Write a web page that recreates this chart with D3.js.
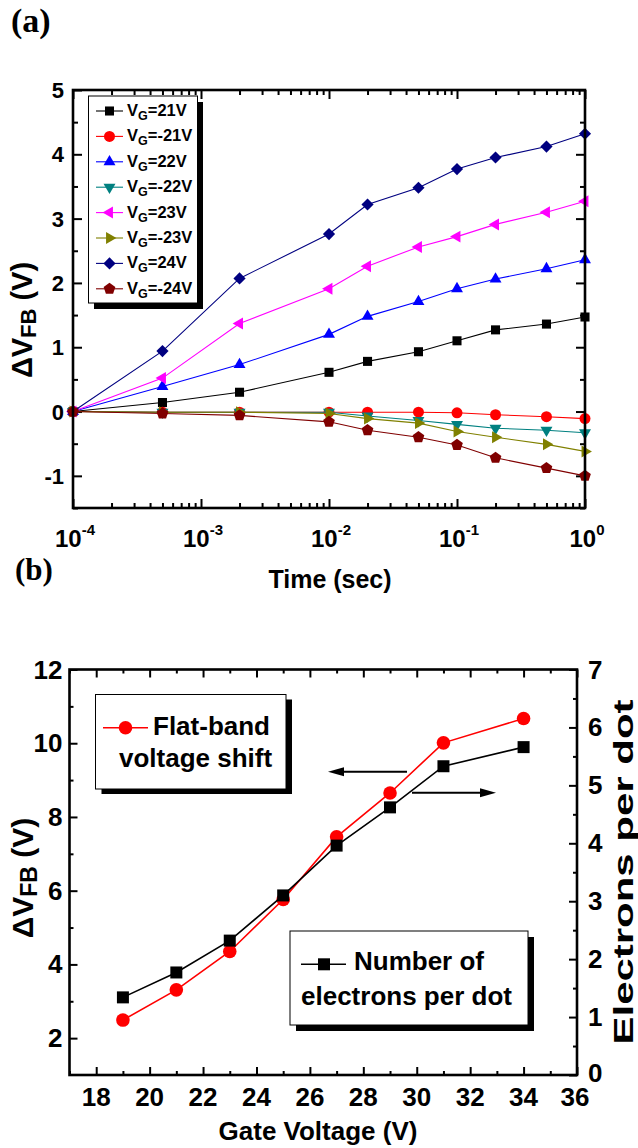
<!DOCTYPE html>
<html>
<head>
<meta charset="utf-8">
<script src="https://cdn.jsdelivr.net/npm/d3@7"></script>
<style>
  html, body { margin: 0; padding: 0; background: #fff; }
  svg { display: block; }
  text { font-family: "Liberation Sans", Arial, Helvetica, sans-serif; font-weight: bold; fill: #000; }
  .serif { font-family: "Liberation Serif", "Times New Roman", serif; }
</style>
</head>
<body>
<svg id="fig" width="638" height="1148"></svg>
<script>
// ---------- Panel (a): flat-band shift vs. stress time ----------
const times = [1e-4, 5e-4, 2e-3, 1e-2, 2e-2, 5e-2, 1e-1, 2e-1, 5e-1, 1];
const gateLabels = ["21", "-21", "22", "-22", "23", "-23", "24", "-24"];
const shiftVg21  = [0, 0.14, 0.30, 0.61, 0.78, 0.93, 1.10, 1.27, 1.36, 1.47];
const shiftVgM21 = [0, -0.01, -0.01, -0.01, -0.01, -0.01, -0.02, -0.05, -0.08, -0.11];
const shiftVg22  = [0, 0.39, 0.73, 1.20, 1.48, 1.71, 1.91, 2.06, 2.22, 2.36];
const shiftVgM22 = [0, -0.01, -0.01, -0.01, -0.07, -0.14, -0.20, -0.26, -0.29, -0.33];
const shiftVg23  = [0, 0.52, 1.37, 1.91, 2.26, 2.56, 2.72, 2.91, 3.10, 3.27];
const shiftVgM23 = [0, -0.01, -0.01, -0.03, -0.11, -0.18, -0.31, -0.40, -0.51, -0.62];
const shiftVg24  = [0, 0.94, 2.07, 2.76, 3.22, 3.48, 3.77, 3.95, 4.12, 4.32];
const shiftVgM24 = [0, -0.03, -0.06, -0.16, -0.29, -0.40, -0.52, -0.72, -0.88, -1.00];
const timeTickExponents = [-4, -3, -2, -1, 0];
const shiftTicksA = [-1, 0, 1, 2, 3, 4, 5];

// ---------- Panel (b): shift and charge vs. gate voltage ----------
const gateVoltage = [19, 21, 23, 25, 27, 29, 31, 34];
const flatBandShift = [2.49, 3.31, 4.35, 5.76, 7.46, 8.65, 10.01, 10.67];
const electronsPerDot = [1.34, 1.77, 2.32, 3.10, 3.96, 4.62, 5.33, 5.66];
const gateTicks = [18, 20, 22, 24, 26, 28, 30, 32, 34, 36];
const shiftTicksB = [2, 4, 6, 8, 10, 12];
const electronTicks = [0, 1, 2, 3, 4, 5, 6, 7];

const svg = d3.select("#fig");

// pentagon marker for d3.symbol
const symbolPentagon = {
  draw(ctx, size) {
    const r = Math.sqrt(size / (2.5 * Math.sin(2 * Math.PI / 5)));
    for (let i = 0; i < 5; i++) {
      const a = -Math.PI / 2 + i * 2 * Math.PI / 5;
      const x = r * Math.cos(a), y = r * Math.sin(a);
      if (i === 0) ctx.moveTo(x, y); else ctx.lineTo(x, y);
    }
    ctx.closePath();
  }
};

// marker style per series
const seriesStyle = [
  { color: "#000000", type: d3.symbolSquare,   rot: 0,   size: 82 },
  { color: "#ff0000", type: d3.symbolCircle,   rot: 0,   size: 95 },
  { color: "#0000ff", type: d3.symbolTriangle, rot: 0,   size: 62 },
  { color: "#008080", type: d3.symbolTriangle, rot: 180, size: 62 },
  { color: "#ff00ff", type: d3.symbolTriangle, rot: -90, size: 62 },
  { color: "#808000", type: d3.symbolTriangle, rot: 90,  size: 62 },
  { color: "#000080", type: d3.symbolSquare,   rot: 45,  size: 74 },
  { color: "#800000", type: symbolPentagon,    rot: 0,   size: 90 }
];
const seriesA = [shiftVg21, shiftVgM21, shiftVg22, shiftVgM22, shiftVg23, shiftVgM23, shiftVg24, shiftVgM24];

// inward ticks on one side of a frame
function frameTicks(axisFn, scale, transform, values, len) {
  const g = svg.append("g").attr("transform", transform)
    .call(axisFn(scale).tickValues(values).tickSize(-len).tickFormat(""));
  g.select(".domain").remove();
  g.selectAll(".tick text").remove();
  g.selectAll(".tick line").attr("stroke", "#000").attr("stroke-width", 2);
}

// ================= Panel (a) =================
const A = { l: 73, r: 585, t: 90, b: 508 };
const xA = d3.scaleLog().domain([1e-4, 1]).range([A.l, A.r]);
const yA = d3.scaleLinear().domain([-1.5, 5]).range([A.b, A.t]);

const majorTimes = timeTickExponents.map(e => Math.pow(10, e));
const minorTimes = [];
timeTickExponents.slice(0, -1).forEach(e => { for (let m = 2; m <= 9; m++) minorTimes.push(m * Math.pow(10, e)); });
const minorShiftA = d3.range(-1.5, 5, 1).map(v => +v.toFixed(1));

frameTicks(d3.axisBottom, xA, `translate(0,${A.b})`, majorTimes, 9);
frameTicks(d3.axisBottom, xA, `translate(0,${A.b})`, minorTimes, 5);
frameTicks(d3.axisTop, xA, `translate(0,${A.t})`, majorTimes, 9);
frameTicks(d3.axisTop, xA, `translate(0,${A.t})`, minorTimes, 5);
frameTicks(d3.axisLeft, yA, `translate(${A.l},0)`, shiftTicksA, 9);
frameTicks(d3.axisLeft, yA, `translate(${A.l},0)`, minorShiftA, 5);
frameTicks(d3.axisRight, yA, `translate(${A.r},0)`, shiftTicksA, 9);
frameTicks(d3.axisRight, yA, `translate(${A.r},0)`, minorShiftA, 5);

// data lines and markers
const lineA = d3.line().x((d, i) => xA(times[i])).y(d => yA(d));
seriesA.forEach((vals, k) => {
  const st = seriesStyle[k];
  svg.append("path").attr("d", lineA(vals)).attr("fill", "none")
    .attr("stroke", st.color).attr("stroke-width", 1.1);
  svg.append("g").selectAll("path").data(vals).join("path")
    .attr("d", d3.symbol(st.type, st.size))
    .attr("transform", (d, i) => `translate(${xA(times[i])},${yA(d)}) rotate(${st.rot})`)
    .attr("fill", st.color);
});

svg.append("rect").attr("x", A.l).attr("y", A.t).attr("width", A.r - A.l).attr("height", A.b - A.t)
  .attr("fill", "none").attr("stroke", "#000").attr("stroke-width", 2.6);

// tick labels
svg.append("g").selectAll("text").data(shiftTicksA).join("text")
  .attr("x", A.l - 9).attr("y", d => yA(d) + 8).attr("text-anchor", "end")
  .attr("font-size", 22).text(d => d);

const xLab = svg.append("g").selectAll("text").data(timeTickExponents).join("text")
  .attr("x", d => xA(Math.pow(10, d)) + 2).attr("y", 547).attr("text-anchor", "middle").attr("font-size", 24);
xLab.append("tspan").text("10");
xLab.append("tspan").attr("dy", -12).attr("font-size", 15).text(d => d);

svg.append("text").attr("x", 330).attr("y", 588).attr("text-anchor", "middle")
  .attr("font-size", 25).text("Time (sec)");

const yLabA = svg.append("text").attr("transform", "translate(32,320) rotate(-90)")
  .attr("text-anchor", "middle").attr("font-size", 29);
yLabA.append("tspan").text("\u0394V");
yLabA.append("tspan").attr("font-size", 22).attr("dy", 4).text("FB");
yLabA.append("tspan").attr("dy", -4).text(" (V)");

// legend (a)
svg.append("rect").attr("x", 94).attr("y", 102).attr("width", 109).attr("height", 207).attr("fill", "#000");
svg.append("rect").attr("x", 88.5).attr("y", 96).attr("width", 109).attr("height", 207)
  .attr("fill", "#fff").attr("stroke", "#000").attr("stroke-width", 1);
gateLabels.forEach((lab, k) => {
  const st = seriesStyle[k];
  const y = 111 + k * 25.4;
  svg.append("line").attr("x1", 96).attr("x2", 123).attr("y1", y).attr("y2", y)
    .attr("stroke", st.color).attr("stroke-width", 1.1);
  svg.append("path").attr("d", d3.symbol(st.type, st.size))
    .attr("transform", `translate(109.5,${y}) rotate(${st.rot})`).attr("fill", st.color);
  const t = svg.append("text").attr("x", 127).attr("y", y + 5).attr("font-size", 16.5);
  t.append("tspan").text("V");
  t.append("tspan").attr("font-size", 12.5).attr("dy", 4).text("G");
  t.append("tspan").attr("dy", -4).text("=" + lab + "V");
});

svg.append("text").attr("class", "serif").attr("x", 11).attr("y", 32).attr("font-size", 34).text("(a)");

// ================= Panel (b) =================
const B = { l: 69.5, r: 577, t: 669.5, b: 1075 };
const xB = d3.scaleLinear().domain([17, 36]).range([B.l, B.r]);
const yB = d3.scaleLinear().domain([1, 12]).range([B.b, B.t]);
const yR = d3.scaleLinear().domain([0, 7]).range([B.b, B.t]);

const minorGate = d3.range(17, 36, 2);
const minorShiftB = [3, 5, 7, 9, 11];
const minorElectrons = d3.range(0.5, 7, 1);

frameTicks(d3.axisBottom, xB, `translate(0,${B.b})`, gateTicks, 8);
frameTicks(d3.axisBottom, xB, `translate(0,${B.b})`, minorGate, 4);
frameTicks(d3.axisTop, xB, `translate(0,${B.t})`, gateTicks, 8);
frameTicks(d3.axisTop, xB, `translate(0,${B.t})`, minorGate, 4);
frameTicks(d3.axisLeft, yB, `translate(${B.l},0)`, shiftTicksB, 8);
frameTicks(d3.axisLeft, yB, `translate(${B.l},0)`, minorShiftB, 4);
frameTicks(d3.axisRight, yR, `translate(${B.r},0)`, electronTicks, 8);
frameTicks(d3.axisRight, yR, `translate(${B.r},0)`, minorElectrons, 4);

// flat-band shift (left axis)
svg.append("path").attr("d", d3.line().x((d, i) => xB(gateVoltage[i])).y(d => yB(d))(flatBandShift))
  .attr("fill", "none").attr("stroke", "#ff0000").attr("stroke-width", 1.6);
svg.append("g").selectAll("path").data(flatBandShift).join("path")
  .attr("d", d3.symbol(d3.symbolCircle, 145))
  .attr("transform", (d, i) => `translate(${xB(gateVoltage[i])},${yB(d)})`).attr("fill", "#ff0000");

// electrons per dot (right axis)
svg.append("path").attr("d", d3.line().x((d, i) => xB(gateVoltage[i])).y(d => yR(d))(electronsPerDot))
  .attr("fill", "none").attr("stroke", "#000").attr("stroke-width", 1.6);
svg.append("g").selectAll("path").data(electronsPerDot).join("path")
  .attr("d", d3.symbol(d3.symbolSquare, 144))
  .attr("transform", (d, i) => `translate(${xB(gateVoltage[i])},${yR(d)})`).attr("fill", "#000");

svg.append("rect").attr("x", B.l).attr("y", B.t).attr("width", B.r - B.l).attr("height", B.b - B.t)
  .attr("fill", "none").attr("stroke", "#000").attr("stroke-width", 2.6);

// tick labels
svg.append("g").selectAll("text").data(shiftTicksB).join("text")
  .attr("x", B.l - 7).attr("y", d => yB(d) + 9).attr("text-anchor", "end")
  .attr("font-size", 26).text(d => d);
svg.append("g").selectAll("text").data(electronTicks).join("text")
  .attr("x", B.r + 11).attr("y", d => yR(d) + (d === 0 ? 7 : 9)).attr("text-anchor", "start")
  .attr("font-size", 26).text(d => d);
svg.append("g").selectAll("text").data(gateTicks).join("text")
  .attr("x", d => xB(d) - (d === 36 ? 2 : 0)).attr("y", 1106).attr("text-anchor", "middle")
  .attr("font-size", 26).text(d => d);

svg.append("text").attr("x", 318).attr("y", 1140).attr("text-anchor", "middle")
  .attr("font-size", 26).text("Gate Voltage (V)");

const yLabB = svg.append("text").attr("transform", "translate(33,878) rotate(-90)")
  .attr("text-anchor", "middle").attr("font-size", 30);
yLabB.append("tspan").text("\u0394V");
yLabB.append("tspan").attr("font-size", 23).attr("dy", 4).text("FB");
yLabB.append("tspan").attr("dy", -4).text(" (V)");

svg.append("text").attr("transform", "translate(633,872) rotate(-90)")
  .attr("text-anchor", "middle").attr("font-size", 28)
  .attr("textLength", 345).attr("lengthAdjust", "spacingAndGlyphs").text("Electrons per dot");

// direction arrows
function arrow(x1, x2, y) {
  const dir = Math.sign(x2 - x1);
  svg.append("line").attr("x1", x1).attr("x2", x2 - dir * 12).attr("y1", y).attr("y2", y)
    .attr("stroke", "#000").attr("stroke-width", 2);
  svg.append("path").attr("d", `M${x2},${y} L${x2 - dir * 16},${y - 4.5} L${x2 - dir * 16},${y + 4.5} Z`)
    .attr("fill", "#000");
}
arrow(407, 328, 771.7);
arrow(412, 496, 792.7);

// legend boxes (b)
svg.append("rect").attr("x", 101.5).attr("y", 699.5).attr("width", 190.5).attr("height", 94.5).attr("fill", "#000");
svg.append("rect").attr("x", 95.5).attr("y", 694.5).attr("width", 190.5).attr("height", 94.5)
  .attr("fill", "#fff").attr("stroke", "#000").attr("stroke-width", 1);
svg.append("line").attr("x1", 103).attr("x2", 148).attr("y1", 727.7).attr("y2", 727.7)
  .attr("stroke", "#ff0000").attr("stroke-width", 1.6);
svg.append("path").attr("d", d3.symbol(d3.symbolCircle, 145)).attr("transform", "translate(125.5,727.7)").attr("fill", "#ff0000");
svg.append("text").attr("x", 153).attr("y", 735).attr("font-size", 26).text("Flat-band");
svg.append("text").attr("x", 119).attr("y", 767).attr("font-size", 26).text("voltage shift");

svg.append("rect").attr("x", 296).attr("y", 937).attr("width", 238).attr("height", 94).attr("fill", "#000");
svg.append("rect").attr("x", 290).attr("y", 931).attr("width", 238).attr("height", 94)
  .attr("fill", "#fff").attr("stroke", "#000").attr("stroke-width", 1);
svg.append("line").attr("x1", 301).attr("x2", 346).attr("y1", 964.3).attr("y2", 964.3)
  .attr("stroke", "#000").attr("stroke-width", 1.6);
svg.append("path").attr("d", d3.symbol(d3.symbolSquare, 144)).attr("transform", "translate(324,964.3)").attr("fill", "#000");
svg.append("text").attr("x", 354).attr("y", 970).attr("font-size", 26).text("Number of");
svg.append("text").attr("x", 301).attr("y", 1005).attr("font-size", 26).text("electrons per dot");

svg.append("text").attr("class", "serif").attr("x", 15).attr("y", 580).attr("font-size", 31).text("(b)");
</script>
</body>
</html>
